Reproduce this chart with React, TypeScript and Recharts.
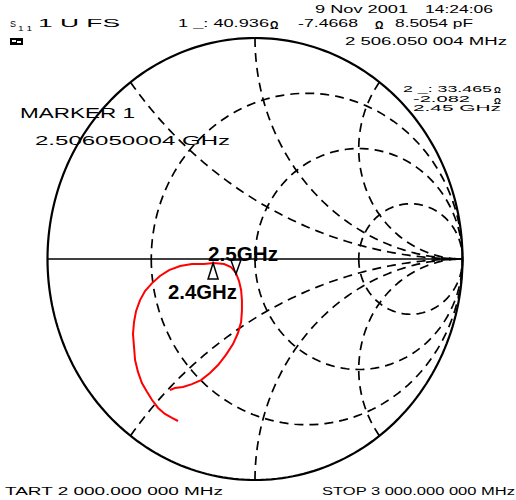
import React from 'react';
import { ComposedChart, XAxis, YAxis, Line, Scatter, ReferenceLine } from 'recharts';

// reflection coefficient of the S11 trace, 2 GHz -> 3 GHz
const traceRe = [
  -0.371, -0.4, -0.434, -0.467, -0.496, -0.52, -0.545, -0.564, -0.578, -0.583,
  -0.588, -0.583, -0.573, -0.554, -0.53, -0.496, -0.458, -0.414, -0.361, -0.304,
  -0.246, -0.198, -0.149, -0.116, -0.092, -0.077, -0.067, -0.063, -0.063, -0.067,
  -0.082, -0.106, -0.14, -0.178, -0.217, -0.26, -0.304, -0.347, -0.386, -0.41,
];
const traceIm = [
  -0.733, -0.719, -0.701, -0.674, -0.638, -0.602, -0.561, -0.511, -0.457, -0.398,
  -0.339, -0.285, -0.235, -0.186, -0.145, -0.109, -0.077, -0.05, -0.032, -0.023,
  -0.023, -0.018, -0.023, -0.036, -0.063, -0.1, -0.14, -0.186, -0.235, -0.285,
  -0.335, -0.385, -0.434, -0.48, -0.516, -0.548, -0.566, -0.579, -0.584, -0.593,
];

// markers: 1 = 2.506 GHz, 2 = 2.45 GHz
const markerRe = [-0.092, -0.202];
const markerIm = [-0.068, -0.018];

// Smith chart grid
const resistances = [1 / 3, 1, 3];
const reactances = [0.5, 1, 2];

const W = 516;
const H = 500;
const CX = 255;
const CY = 259;
const RX = 207.5;
const RY = 221;
const X_DOMAIN = [-CX / RX, (W - CX) / RX];
const Y_DOMAIN = [-(H - CY) / RY, CY / RY];

type Pt = { u: number; v: number };

function arc(cu: number, cv: number, r: number, a0: number, a1: number, n = 120): Pt[] {
  const pts: Pt[] = [];
  for (let i = 0; i <= n; i++) {
    const a = a0 + ((a1 - a0) * i) / n;
    pts.push({ u: cu + r * Math.cos(a), v: cv + r * Math.sin(a) });
  }
  return pts;
}

const outer = arc(0, 0, 1, 0.001, Math.PI * 2 + 0.001, 240);

const rCircles = resistances.map((r) => arc(r / (1 + r), 0, 1 / (1 + r), Math.PI, 3 * Math.PI, 160));

const xArcs: Pt[][] = [];
reactances.forEach((x) => {
  const pu = (x * x - 1) / (x * x + 1);
  const pv = (2 * x) / (x * x + 1);
  const a0 = Math.atan2(pv - 1 / x, pu - 1);
  const top = arc(1, 1 / x, 1 / x, a0 < 0 ? a0 + 2 * Math.PI : a0, 1.5 * Math.PI, 120);
  xArcs.push(top);
  xArcs.push(top.map((p) => ({ u: p.u, v: -p.v })));
});

const trace = traceRe.map((u, i) => ({ u, v: traceIm[i] }));
const marker1 = [{ u: markerRe[0], v: markerIm[0] }];
const marker2 = [{ u: markerRe[1], v: markerIm[1] }];

const TriDown = (props: any) => {
  const { cx, cy } = props;
  return (
    <polygon
      points={`${cx},${cy} ${cx - 5},${cy - 14} ${cx + 5},${cy - 14}`}
      fill="#fff"
      stroke="#000"
      strokeWidth={1.5}
    />
  );
};

const TriUp = (props: any) => {
  const { cx, cy } = props;
  return (
    <polygon
      points={`${cx},${cy} ${cx - 5},${cy + 16} ${cx + 5},${cy + 16}`}
      fill="#fff"
      stroke="#000"
      strokeWidth={1.5}
    />
  );
};

const font = '"Liberation Sans", Arial, sans-serif';

function T(props: {
  x: number;
  y: number;
  len: number;
  size: number;
  bold?: boolean;
  children: React.ReactNode;
}) {
  return (
    <text
      x={props.x}
      y={props.y}
      fontSize={props.size}
      fontFamily={font}
      fontWeight={props.bold ? 'bold' : 'normal'}
      textLength={props.len}
      lengthAdjust="spacingAndGlyphs"
      fill="#000"
    >
      {props.children}
    </text>
  );
}

function Ohm({ x, y, size = 10.5 }: { x: number; y: number; size?: number }) {
  return (
    <text x={x} y={y} fontSize={size} fontWeight="bold" fontFamily={font} fill="#000">
      Ω
    </text>
  );
}

export default function App() {
  return (
    <div style={{ position: 'absolute', left: 0, top: 0, width: W, height: H, background: '#fff' }}>
      <ComposedChart width={W} height={H} margin={{ top: 0, right: 0, bottom: 0, left: 0 }}>
        <XAxis type="number" dataKey="u" domain={X_DOMAIN} allowDataOverflow hide />
        <YAxis type="number" dataKey="v" domain={Y_DOMAIN} allowDataOverflow hide />
        {rCircles.map((pts, i) => (
          <Line
            key={`r-${i}`}
            data={pts}
            dataKey="v"
            stroke="#000"
            strokeWidth={1.7}
            strokeDasharray="9 6"
            dot={false}
            activeDot={false}
            isAnimationActive={false}
          />
        ))}
        {xArcs.map((pts, i) => (
          <Line
            key={`x-${i}`}
            data={pts}
            dataKey="v"
            stroke="#000"
            strokeWidth={1.7}
            strokeDasharray="9 6"
            dot={false}
            activeDot={false}
            isAnimationActive={false}
          />
        ))}
        <ReferenceLine
          segment={[
            { x: -1, y: 0 },
            { x: 1, y: 0 },
          ]}
          stroke="#000"
          strokeWidth={1.6}
        />
        <Line data={outer} dataKey="v" stroke="#000" strokeWidth={2.2} dot={false} activeDot={false} isAnimationActive={false} />
        <Line data={trace} dataKey="v" stroke="#ff0000" strokeWidth={2} dot={false} activeDot={false} isAnimationActive={false} />
        <Scatter data={marker1} dataKey="v" shape={<TriDown />} isAnimationActive={false} />
        <Scatter data={marker2} dataKey="v" shape={<TriUp />} isAnimationActive={false} />
      </ComposedChart>
      <svg
        width={W}
        height={H}
        style={{ position: 'absolute', left: 0, top: 0, pointerEvents: 'none' }}
      >
        <T x={315} y={13} len={93} size={11}>9 Nov 2001</T>
        <T x={425} y={13} len={68} size={11}>14:24:06</T>
        <T x={10} y={27} len={6} size={9}>S</T>
        <T x={18} y={31} len={14} size={7}>1 1</T>
        <T x={38} y={27} len={82} size={10}>1 U FS</T>
        <T x={178} y={27} len={91} size={10}>1 _: 40.936</T>
        <Ohm x={270} y={29} />
        <T x={298} y={27} len={60} size={10}>-7.4668</T>
        <Ohm x={375} y={29} />
        <T x={395} y={27} len={78} size={10}>8.5054 pF</T>
        <rect x={10} y={38} width={13} height={7} fill="#000" />
        <rect x={12} y={40} width={4} height={2} fill="#fff" />
        <rect x={17} y={41} width={4} height={2} fill="#fff" />
        <T x={345} y={45} len={162} size={10}>2 506.050 004 MHz</T>
        <T x={20} y={118} len={115} size={14}>MARKER 1</T>
        <T x={35} y={145} len={195} size={13}>2.506050004 GHz</T>
        <T x={403} y={92} len={89} size={8.5}>2 _: 33.465</T>
        <Ohm x={494} y={93} size={8.5} />
        <T x={413} y={102} len={57} size={8.5}>-2.082</T>
        <Ohm x={494} y={104} size={8.5} />
        <T x={413} y={111} len={88} size={8.5}>2.45 GHz</T>
        <T x={208} y={261} len={70} size={19.5} bold>2.5GHz</T>
        <T x={168} y={299} len={69} size={19.5} bold>2.4GHz</T>
        <T x={5} y={495} len={218} size={10}>TART 2 000.000 000 MHz</T>
        <T x={322} y={495} len={193} size={10}>STOP 3 000.000 000 MHz</T>
      </svg>
    </div>
  );
}
